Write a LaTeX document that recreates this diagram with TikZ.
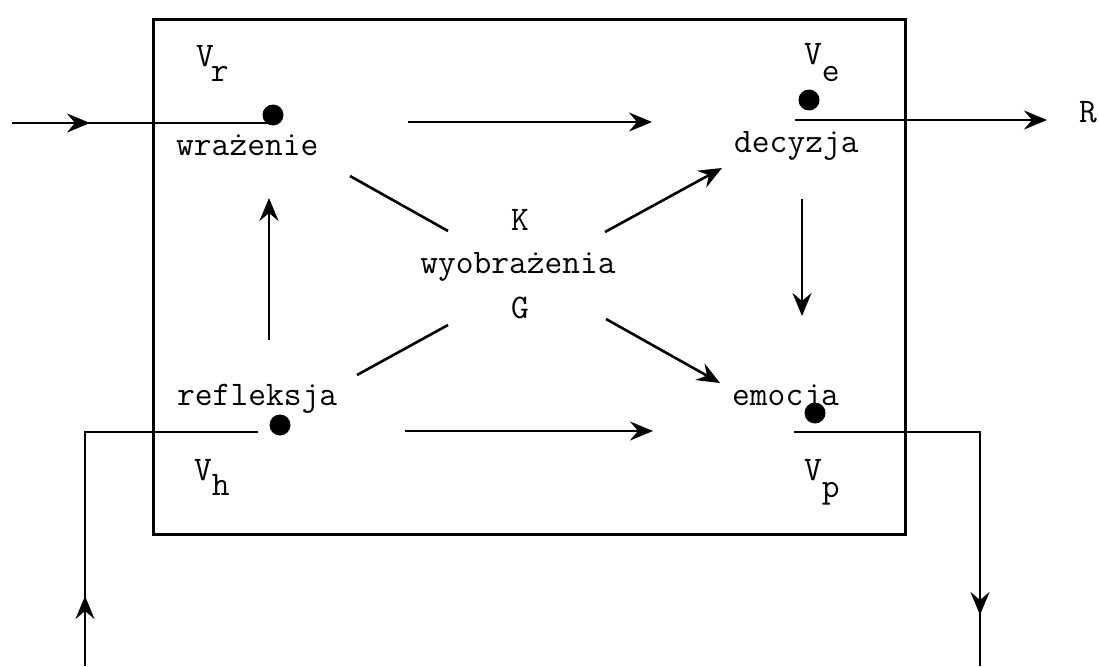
\documentclass[tikz,border=0pt]{standalone}
\usepackage{fontspec}
\usetikzlibrary{arrows.meta}
\begin{document}
\begin{tikzpicture}[x=1pt,y=-1pt,
  every node/.style={font=\ttfamily\fontsize{34.5}{40}\selectfont, inner sep=0pt},
  ln/.style={line width=2.6pt},
  arr/.style={ln, -{Stealth[length=23pt,width=19pt,inset=8pt]}},
  dot/.style={circle, fill, minimum size=21pt, inner sep=0pt},
  lbl/.style={anchor=base west},
  ctr/.style={anchor=base}]
\useasboundingbox (0,0) rectangle (1099,666);
% frame
\node[draw, line width=3.4pt, minimum width=752pt, minimum height=515pt, anchor=north west] (box) at (152,18) {};
% texts
\node[lbl] (wr) at (176,155) {wrażenie};
\node[lbl] (dec) at (734,152) {decyzja};
\node[lbl] (ref) at (177,405) {refleksja};
\node[lbl] (emo) at (732,405) {emocja};
\node[ctr] (K) at (520,230) {K};
\node[ctr] (wyo) at (518,273) {wyobrażenia};
\node[ctr] (G) at (520,318) {G};
\node[lbl] (R) at (1079,123) {R};
\node[lbl] (Vr) at (196,67) {V\kern-3pt\raisebox{-15pt}{r}};
\node[lbl] (Ve) at (804,65) {V\raisebox{-17pt}{e}};
\node[lbl] (Vh) at (194,480) {V\raisebox{-15pt}{h}};
\node[lbl] (Vp) at (804,480) {V\raisebox{-17pt}{p}};
% dots
\node[dot] (dr) at (273,115) {};
\node[dot] (de) at (809,100) {};
\node[dot] (dh) at (280,425) {};
\node[dot] (dp) at (815,413) {};
% input
\coordinate (in) at (12,123);
\coordinate (inTip) at (90,123);
\draw[ln] (in) -- (in -| dr);
\draw[arr] (in) -- (inTip);
% output
\coordinate (outS) at (795,120);
\coordinate (outE) at (1047,120);
\draw[arr] (outS) -- (outE);
% inner arrows
\coordinate (t1) at (408,122); \coordinate (t2) at (652,122);
\draw[arr] (t1) -- (t2);
\coordinate (b1) at (405,431); \coordinate (b2) at (653,431);
\draw[arr] (b1) -- (b2);
\coordinate (u1) at (269,340); \coordinate (u2) at (269,198);
\draw[arr] (u1) -- (u2);
\coordinate (d1) at (802,199); \coordinate (d2) at (802,316);
\draw[arr] (d1) -- (d2);
\coordinate (r1) at (605,232); \coordinate (r2) at (722,168);
\draw[arr] (r1) -- (r2);
\coordinate (s1) at (606,319); \coordinate (s2) at (720,383);
\draw[arr] (s1) -- (s2);
\coordinate (l1) at (350,176); \coordinate (l2) at (448,231);
\draw[ln] (l1) -- (l2);
\coordinate (m1) at (357,375); \coordinate (m2) at (448,325);
\draw[ln] (m1) -- (m2);
% feedback left
\coordinate (fl1) at (258,432); \coordinate (fl2) at (85,432); \coordinate (fl3) at (85,666);
\coordinate (flT) at (85,596);
\draw[ln] (fl1) -- (fl2) -- (fl3);
\draw[arr] (fl3) -- (flT);
% feedback right
\coordinate (fr1) at (794,432); \coordinate (fr2) at (980,432); \coordinate (fr3) at (980,666);
\coordinate (frA) at (980,560); \coordinate (frT) at (980,615);
\draw[ln] (fr1) -- (fr2) -- (fr3);
\draw[arr] (frA) -- (frT);
\end{tikzpicture}
\end{document}
